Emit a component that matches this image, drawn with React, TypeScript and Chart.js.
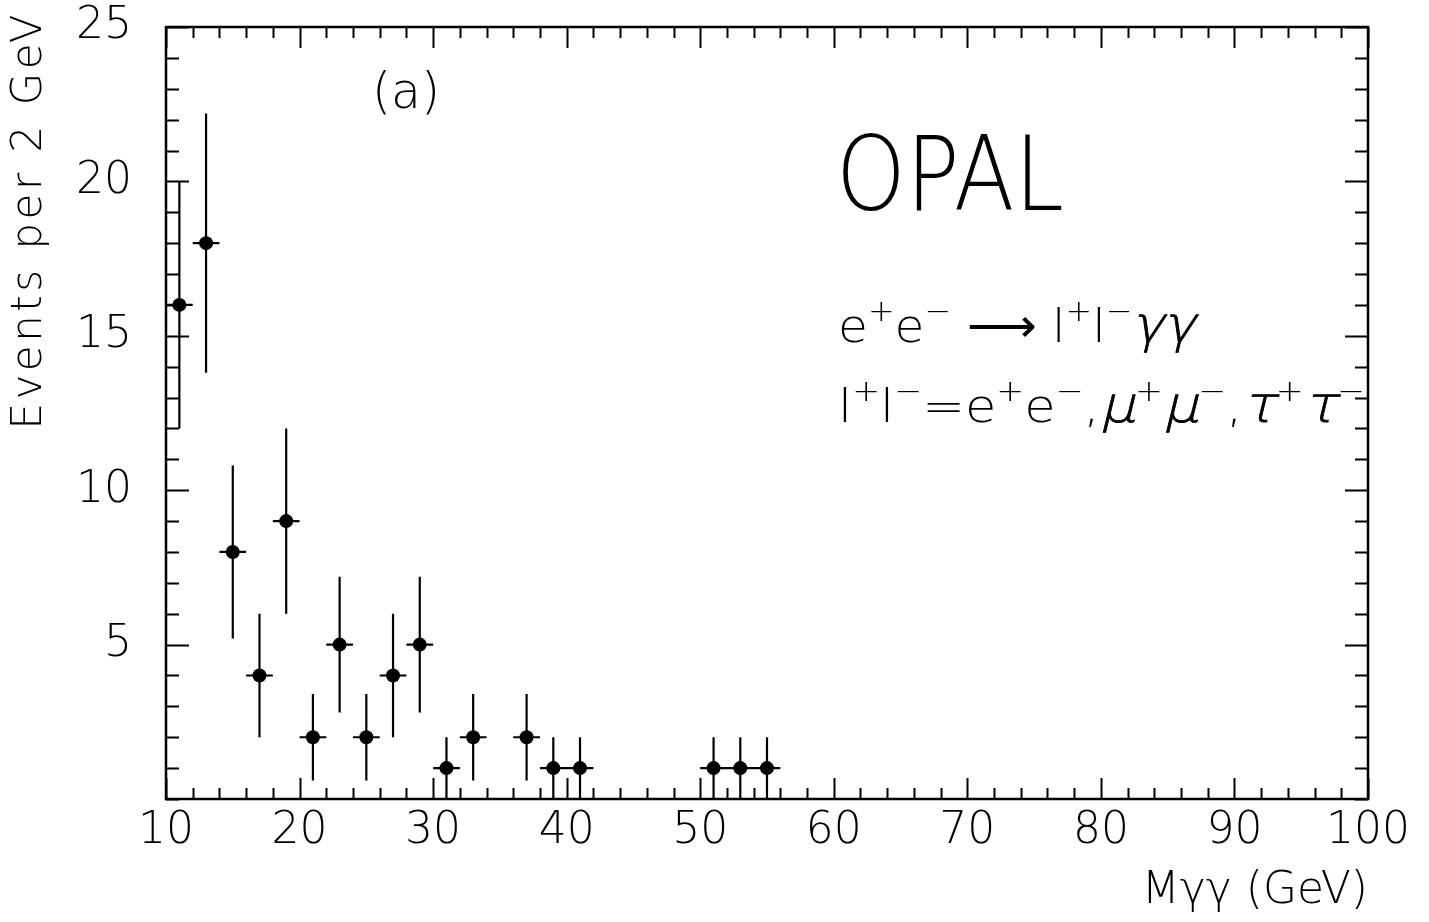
import React, { useEffect, useRef } from 'react';
import { Chart, registerables } from 'chart.js';

Chart.register(...registerables);

// ---- data ----
const massBins = [11, 13, 15, 17, 19, 21, 23, 25, 27, 29, 31, 33, 37, 39, 41, 51, 53, 55];
const eventCounts = [16, 18, 8, 4, 9, 2, 5, 2, 4, 5, 1, 2, 2, 1, 1, 1, 1, 1];
const countErrors = [4, 4.2, 2.8, 2, 3, 1.4, 2.2, 1.4, 2, 2.2, 1, 1.4, 1.4, 1, 1, 1, 1, 1];
const binHalfWidths = [1, 1, 1, 1, 1, 1, 1, 1, 1, 1, 1, 1, 1, 1, 1, 1, 1, 1];
const xTickLabels = [10, 20, 30, 40, 50, 60, 70, 80, 90, 100];
const yTickLabels = [5, 10, 15, 20, 25];
const xMinorStep = 2;
const yMinorStep = 1;

const xTitle = 'Mγγ (GeV)';
const yTitle = 'Events per 2 GeV';
const panelLabel = '(a)';
const experimentLabel = 'OPAL';

type Seg = { t: string; sup?: boolean; greek?: boolean };
const reactionLine: Seg[] = [
  { t: 'e' }, { t: '+', sup: true }, { t: 'e' }, { t: '−', sup: true },
  { t: ' ⟶ ' },
  { t: 'l' }, { t: '+', sup: true }, { t: 'l' }, { t: '−', sup: true },
  { t: 'γγ', greek: true },
];
const leptonLine: Seg[] = [
  { t: 'l' }, { t: '+', sup: true }, { t: 'l' }, { t: '−', sup: true },
  { t: '=' },
  { t: 'e' }, { t: '+', sup: true }, { t: 'e' }, { t: '−', sup: true },
  { t: ',' },
  { t: 'μ', greek: true }, { t: '+', sup: true }, { t: 'μ', greek: true }, { t: '−', sup: true },
  { t: ',' },
  { t: 'τ', greek: true }, { t: '+', sup: true }, { t: 'τ', greek: true }, { t: '−', sup: true },
];

const FONT = "'DejaVu Sans', 'Liberation Sans', sans-serif";
const WEIGHT = '200';

function drawFitted(ctx: CanvasRenderingContext2D, font: string, text: string, x: number, base: number, width: number) {
  ctx.font = font;
  const w = ctx.measureText(text).width;
  ctx.save();
  ctx.translate(x, base);
  ctx.scale(width / w, 1);
  ctx.textBaseline = 'alphabetic';
  ctx.textAlign = 'left';
  ctx.fillText(text, 0, 0);
  ctx.restore();
}

function drawSegments(ctx: CanvasRenderingContext2D, segs: Seg[], x: number, base: number, width: number) {
  const fontFor = (s: Seg) =>
    s.sup ? `${WEIGHT} 30px ${FONT}` : s.greek ? `${WEIGHT} 50px ${FONT}` : `${WEIGHT} 46px ${FONT}`;
  let natural = 0;
  for (const s of segs) {
    ctx.font = fontFor(s);
    natural += ctx.measureText(s.t).width;
  }
  ctx.save();
  ctx.translate(x, base);
  ctx.scale(width / natural, 1);
  ctx.textBaseline = 'alphabetic';
  ctx.textAlign = 'left';
  let cx = 0;
  for (const s of segs) {
    ctx.font = fontFor(s);
    if (s.greek) {
      ctx.save();
      ctx.translate(cx, 0);
      ctx.transform(1, 0, -0.22, 1, 0, 0);
      ctx.lineWidth = 0.8;
      ctx.strokeStyle = '#000';
      ctx.fillText(s.t, 0, 0);
      ctx.strokeText(s.t, 0, 0);
      ctx.restore();
    } else {
      ctx.fillText(s.t, cx, s.sup ? -21 : 0);
    }
    cx += ctx.measureText(s.t).width;
  }
  ctx.restore();
}

const decorPlugin = {
  id: 'decor',
  afterDraw(chart: any) {
    const { ctx, chartArea: a, scales } = chart;
    const xs = scales.x;
    const ys = scales.y;
    ctx.save();
    ctx.strokeStyle = '#000';
    ctx.fillStyle = '#000';
    ctx.lineWidth = 2.5;
    ctx.strokeRect(a.left, a.top, a.right - a.left, a.bottom - a.top);
    ctx.lineWidth = 2;
    ctx.beginPath();
    for (let v = xs.min; v <= xs.max + 1e-9; v += xMinorStep) {
      const major = xTickLabels.includes(v);
      const len = major ? 21 : 11;
      const px = Math.round(xs.getPixelForValue(v)) + 0.5;
      ctx.moveTo(px, a.bottom);
      ctx.lineTo(px, a.bottom - len);
      ctx.moveTo(px, a.top);
      ctx.lineTo(px, a.top + len);
    }
    for (let v = ys.min; v <= ys.max + 1e-9; v += yMinorStep) {
      const major = yTickLabels.includes(v);
      const len = major ? 23 : 13;
      const py = Math.round(ys.getPixelForValue(v)) + 0.5;
      ctx.moveTo(a.left, py);
      ctx.lineTo(a.left + len, py);
      ctx.moveTo(a.right, py);
      ctx.lineTo(a.right - len, py);
    }
    ctx.stroke();

    drawFitted(ctx, `${WEIGHT} 50px ${FONT}`, panelLabel, 372, 108, 68);
    drawFitted(ctx, `${WEIGHT} 104px ${FONT}`, experimentLabel, 836, 210, 228);
    drawSegments(ctx, reactionLine, 838, 342, 357);
    drawSegments(ctx, leptonLine, 838, 422, 527);
    ctx.restore();
  },
};

function spacedTitle(s: any, spacing: string, shiftY: number) {
  if (s.__spaced) return;
  s.__spaced = true;
  const orig = s.drawTitle;
  s.drawTitle = function (...args: any[]) {
    const ctx = this.ctx;
    ctx.save();
    (ctx as any).letterSpacing = spacing;
    ctx.translate(0, shiftY);
    orig.apply(this, args);
    ctx.restore();
  };
}

export default function App() {
  const ref = useRef<HTMLCanvasElement | null>(null);
  useEffect(() => {
    document.body.style.margin = '0';
    const canvas = ref.current!;
    const points = massBins.map((m, i) => ({ x: m, y: eventCounts[i] }));
    const bars: { x: number; y: number | null }[] = [];
    massBins.forEach((m, i) => {
      const c = eventCounts[i];
      const e = countErrors[i];
      const h = binHalfWidths[i];
      bars.push({ x: m, y: Math.max(0, c - e) }, { x: m, y: c + e }, { x: m, y: null });
      bars.push({ x: m - h, y: c }, { x: m + h, y: c }, { x: m, y: null });
    });
    const tickFont = { family: FONT, size: 44, weight: WEIGHT as any };
    const chart = new Chart(canvas, {
      type: 'scatter',
      data: {
        datasets: [
          {
            type: 'line',
            label: 'errors',
            data: bars as any,
            borderColor: '#000',
            borderWidth: 2.2,
            pointRadius: 0,
            spanGaps: false,
            tension: 0,
            fill: false,
          } as any,
          {
            type: 'scatter',
            label: 'data',
            data: points,
            pointRadius: 7,
            pointHoverRadius: 7,
            backgroundColor: '#000',
            borderColor: '#000',
            borderWidth: 0,
          },
        ],
      },
      options: {
        animation: false,
        responsive: false,
        devicePixelRatio: 1,
        events: [],
        layout: { padding: { top: 27, right: 61, left: 0, bottom: 4 } },
        plugins: { legend: { display: false }, tooltip: { enabled: false } },
        scales: {
          x: {
            type: 'linear',
            min: 10,
            max: 100,
            grid: { display: false, drawTicks: false },
            border: { display: false },
            afterFit: (s: any) => { s.height = 119; s.paddingLeft = 0; s.paddingRight = 0; },
            afterBuildTicks: (s: any) => { s.ticks = xTickLabels.map((v) => ({ value: v })); },
            ticks: { color: '#000', font: tickFont, padding: 6, maxRotation: 0, autoSkip: false },
            title: { display: true, text: xTitle, align: 'end', color: '#000', font: { family: FONT, size: 44, weight: WEIGHT as any, lineHeight: 1.2 }, padding: 0 },
          },
          y: {
            type: 'linear',
            min: 0,
            max: 25,
            grid: { display: false, drawTicks: false },
            border: { display: false },
            afterFit: (s: any) => { s.width = 166; s.paddingTop = 0; s.paddingBottom = 0; spacedTitle(s, '3.5px', -16); },
            afterBuildTicks: (s: any) => { s.ticks = yTickLabels.map((v) => ({ value: v })); },
            ticks: { color: '#000', font: tickFont, padding: 34, autoSkip: false },
            title: { display: true, text: yTitle, align: 'end', color: '#000', font: { family: FONT, size: 42, weight: WEIGHT as any, lineHeight: 1.45 }, padding: 0 },
          },
        },
      },
      plugins: [decorPlugin],
    });
    return () => chart.destroy();
  }, []);
  return (
    <div style={{ position: 'fixed', left: 0, top: 0, width: 1429, height: 922, background: '#fff' }}>
      <canvas ref={ref} width={1429} height={922} style={{ width: 1429, height: 922, display: 'block' }} />
    </div>
  );
}
